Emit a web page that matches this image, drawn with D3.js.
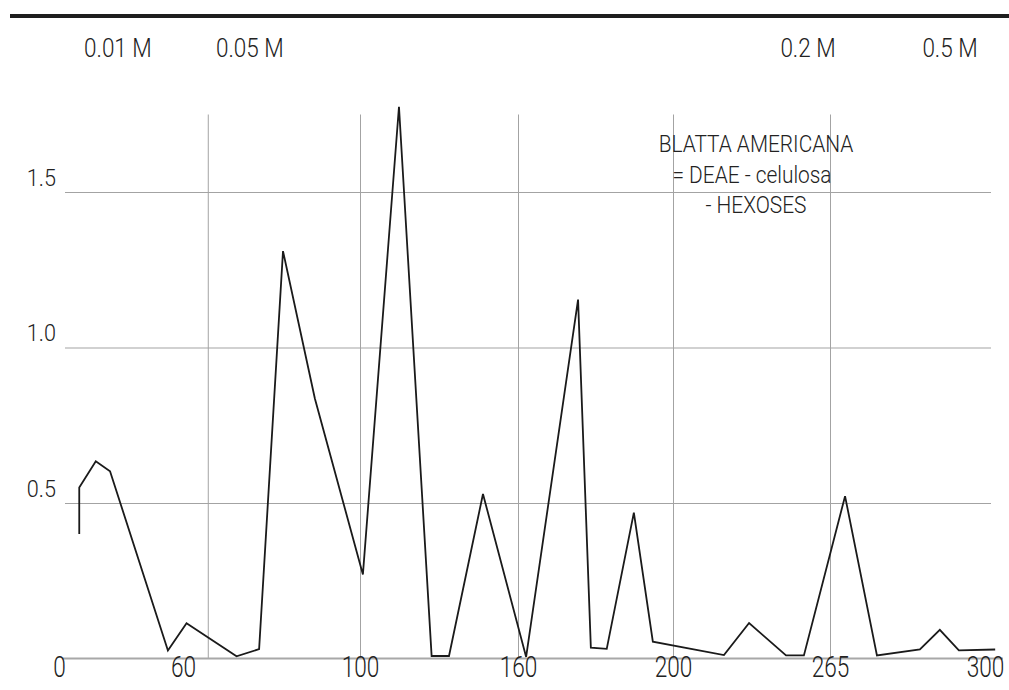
<!DOCTYPE html>
<html>
<head>
<meta charset="utf-8">
<script src="https://cdn.jsdelivr.net/npm/d3@7"></script>
<style>
  html, body { margin: 0; padding: 0; background: #fff; }
  svg { display: block; }
  .lbl { font-family: Roboto, "Liberation Sans", sans-serif; font-weight: 300; fill: #222; }
</style>
</head>
<body>
<svg id="chart" width="1009" height="690"></svg>
<script>
// Fraction (tube) numbers and hexose absorbance along the elution profile
const fraction = [9.8, 9.8, 17.8, 24.7, 52.7, 60.8, 72.1, 77.2, 82.6, 89.8, 101.1, 114.8, 127.2, 133.8,
  146.7, 162.1, 175.5, 178.8, 182.9, 189.9, 194.8, 221.1, 231.5, 246.8, 254.2, 268.4, 275.6, 285.3,
  289.8, 294.1, 302.3];
const hexoses = [0.40, 0.55, 0.634, 0.602, 0.026, 0.113, 0.007, 0.03, 1.31, 0.836, 0.27, 1.774, 0.008, 0.008,
  0.529, 0.005, 1.154, 0.035, 0.031, 0.469, 0.054, 0.011, 0.114, 0.01, 0.01, 0.522, 0.01, 0.029,
  0.092, 0.026, 0.029];

// Axis ticks
const fractionTicks = [0, 60, 100, 160, 200, 265, 300];
const fractionGrid = [65.6, 100, 160, 200, 265];
const absTicks = [0.5, 1.0, 1.5];

// Salt gradient steps (buffer molarity) and the fraction where each starts
const bufferLabels = ["0.01 M", "0.05 M", "0.2 M", "0.5 M"];
const bufferAt = [28.5, 75.1, 255.9, 292.1];

// Title block
const titleLines = ["BLATTA AMERICANA", "= DEAE - celulosa", "- HEXOSES"];

const svg = d3.select("#chart");

// The fraction axis is drawn with uneven spacing between labelled tubes
const x = d3.scaleLinear()
  .domain(fractionTicks)
  .range([59, 183, 360, 518, 673, 830, 985]);

const y = d3.scaleLinear()
  .domain([0, 1.5])
  .range([658.5, 192]);

// Heavy rule across the top
svg.append("rect")
  .attr("x", 10).attr("y", 14)
  .attr("width", 999).attr("height", 4)
  .attr("fill", "#1e1e1e");

// Buffer molarity labels (narrow lettering)
svg.append("g").selectAll("text")
  .data(bufferLabels)
  .join("text")
  .attr("class", "lbl")
  .attr("transform", (d, i) => `translate(${x(bufferAt[i])},57) scale(0.9,1)`)
  .attr("text-anchor", "middle")
  .attr("font-size", 25)
  .text(d => d);

// Horizontal grid lines
svg.append("g")
  .attr("transform", "translate(65,0)")
  .call(d3.axisLeft(y).tickValues(absTicks).tickSize(-926).tickFormat(""))
  .call(g => g.select(".domain").remove())
  .call(g => g.selectAll(".tick line").attr("stroke", "#a3a3a3").attr("stroke-width", 1));

// Vertical grid lines
svg.append("g")
  .attr("transform", "translate(0,658.5)")
  .call(d3.axisBottom(x).tickValues(fractionGrid).tickSize(-544).tickFormat(""))
  .call(g => g.select(".domain").remove())
  .call(g => g.selectAll(".tick line").attr("stroke", "#a3a3a3").attr("stroke-width", 1));

// Baseline
svg.append("line")
  .attr("x1", 63).attr("x2", 1003)
  .attr("y1", y(0)).attr("y2", y(0))
  .attr("stroke", "#a8a8a8")
  .attr("stroke-width", 2.2);

// Absorbance labels
svg.append("g")
  .attr("transform", "translate(56,0)")
  .call(d3.axisLeft(y).tickValues(absTicks).tickSize(0).tickPadding(0).tickFormat(d3.format(".1f")))
  .call(g => g.select(".domain").remove())
  .call(g => g.selectAll(".tick text")
    .attr("class", "lbl")
    .attr("font-size", 24)
    .attr("dy", -7)
    .attr("transform", "scale(0.9,1)"));

// Fraction labels
svg.append("g")
  .attr("transform", "translate(0,658.5)")
  .call(d3.axisBottom(x).tickValues(fractionTicks).tickSize(0).tickPadding(0).tickFormat(d3.format("d")))
  .call(g => g.select(".domain").remove())
  .call(g => g.selectAll(".tick text")
    .attr("class", "lbl")
    .attr("font-size", 29)
    .attr("dy", 18)
    .attr("transform", "scale(0.78,1)"));

// Elution profile
const line = d3.line()
  .x((d, i) => x(fraction[i]))
  .y(d => y(d));

svg.append("path")
  .datum(hexoses)
  .attr("d", line)
  .attr("fill", "none")
  .attr("stroke", "#1a1a1a")
  .attr("stroke-width", 1.8)
  .attr("stroke-linejoin", "miter");

// Title block
svg.append("g").selectAll("text")
  .data(titleLines)
  .join("text")
  .attr("class", "lbl")
  .attr("transform", (d, i) => `translate(${[756, 752, 756][i]},${[152, 183, 213][i]}) scale(0.87,1)`)
  .attr("text-anchor", "middle")
  .attr("font-size", 24)
  .text(d => d);
</script>
</body>
</html>
